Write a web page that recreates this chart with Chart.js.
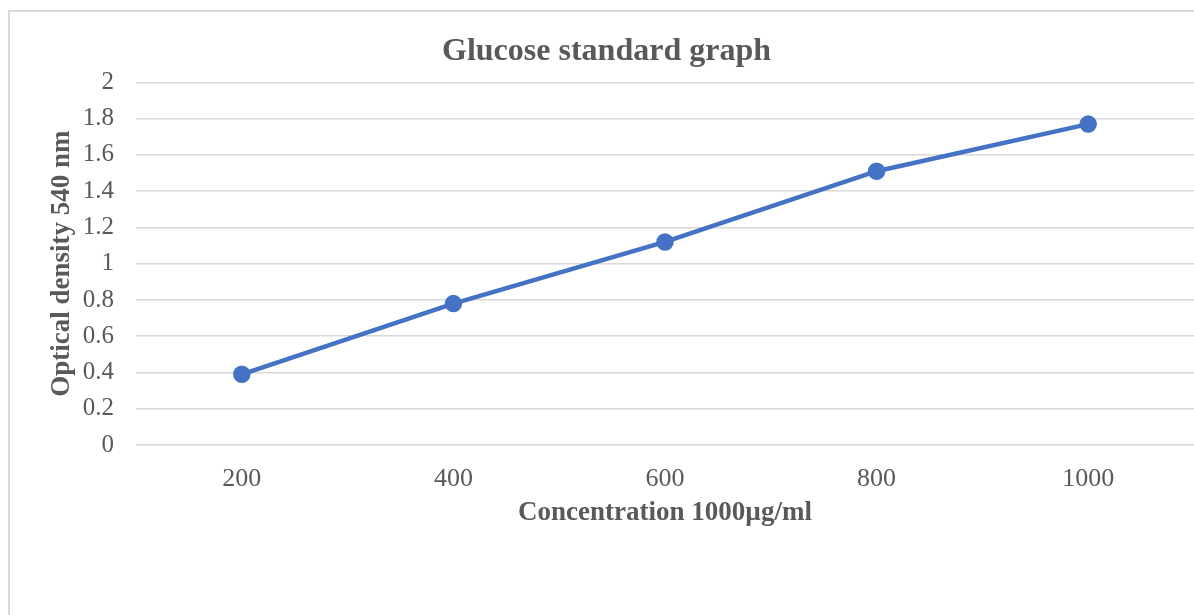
<!DOCTYPE html>
<html>

<head>
    <meta charset="utf-8">
    <script src="https://cdn.jsdelivr.net/npm/chart.js@4"></script>
    <style>
        body { margin: 0; overflow: hidden; background: #fff; }
        #ramka { position: absolute; left: 8px; top: 10px; width: 1300px; height: 700px; border: 2px solid #d9d9d9; }
        #pole { position: absolute; left: 0; top: 0; width: 1205px; height: 615px; }
    </style>
</head>

<body>
    <div id="ramka"></div>
    <div id="pole">
        <canvas id="wykres"></canvas>
    </div>
    <script>
        const stezenia = ["200", "400", "600", "800", "1000"];
        const gestosc = [0.39, 0.78, 1.12, 1.51, 1.77];
        const tytul = "Glucose standard graph";
        const tytulX = "Concentration 1000µg/ml";
        const tytulY = "Optical density 540 nm";

        const szary = "#595959";
        const czcionka = "'Liberation Serif', 'Times New Roman', serif";

        const dane = {
            labels: stezenia,
            datasets: [
                {
                    label: tytulY,
                    data: gestosc,
                    borderColor: "#4472C4",
                    backgroundColor: "#4472C4",
                    borderWidth: 4.5,
                    pointRadius: 6.5,
                    tension: 0
                }
            ]
        };

        const ctx = document.getElementById("wykres").getContext("2d");
        const wykres = new Chart(ctx, {
            type: "line",
            data: dane,
            options: {
                responsive: true,
                maintainAspectRatio: false,
                animation: false,
                layout: { padding: { left: 8, top: 21, right: 0, bottom: 86 } },
                plugins: {
                    legend: { display: false },
                    tooltip: { enabled: false },
                    title: {
                        display: true,
                        text: tytul,
                        color: szary,
                        font: { family: czcionka, size: 32, weight: "bold" },
                        padding: { top: 12, bottom: 11 }
                    }
                },
                scales: {
                    x: {
                        offset: true,
                        grid: { display: false },
                        border: { display: false },
                        ticks: { color: szary, font: { family: czcionka, size: 26 }, padding: 11 },
                        title: {
                            display: true,
                            text: tytulX,
                            color: szary,
                            font: { family: czcionka, size: 27, weight: "bold" },
                            padding: { top: 0, bottom: 0 }
                        },
                        afterFit: (s) => { s.height = 84; }
                    },
                    y: {
                        min: 0,
                        max: 2,
                        ticks: {
                            stepSize: 0.2,
                            color: szary,
                            font: { family: czcionka, size: 25 },
                            padding: 22,
                            callback: (v) => Math.round(v * 10) / 10
                        },
                        grid: { color: "#d9d9d9", lineWidth: 1.5, drawTicks: false },
                        border: { display: false },
                        title: {
                            display: true,
                            text: tytulY,
                            color: szary,
                            font: { family: czcionka, size: 27, weight: "bold" },
                            padding: { top: 38, bottom: 0 }
                        },
                        afterFit: (s) => { s.width = 128; }
                    }
                }
            }
        });
    </script>
</body>

</html>
